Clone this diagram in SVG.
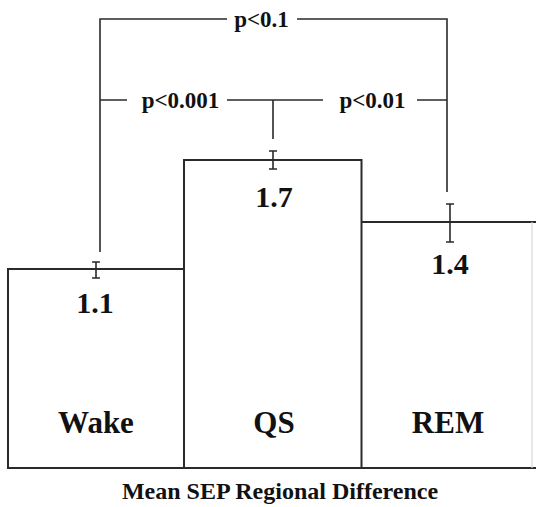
<svg xmlns="http://www.w3.org/2000/svg" width="536" height="507" viewBox="0 0 536 507">
<style>
.ln{stroke:#2a2a2a;stroke-width:1.6;fill:none}
.bar{stroke:#2a2a2a;stroke-width:2;fill:#fff}
.eb{stroke:#2a2a2a;stroke-width:1.6;fill:none}
text{font-family:'Liberation Serif','Times New Roman','DejaVu Serif',serif;font-weight:bold;fill:#111;text-anchor:middle}
.p{font-size:23px}
.v{font-size:30px}
.lab{font-size:31px}
.ttl{font-size:24px}
</style>
<rect width="536" height="507" fill="#fff"/>
<g id="wake">
<rect class="bar" x="8" y="269" width="176" height="199"/>
<path class="eb" d="M96 262V278M92 262H100M92 278H100"/>
<text class="v" x="95" y="313" font-family="Liberation Serif">1.1</text>
<text class="lab" x="96" y="433" font-family="Liberation Serif">Wake</text>
</g>
<g id="rem">
<path class="bar" d="M361.5 222H536M361.5 468H536"/>
<path d="M532 222V468" stroke="#d8d8d8" stroke-width="1.2" fill="none"/>
<path class="eb" d="M450 204V242M446 204H454M446 242H454"/>
<text class="v" x="450" y="274" font-family="Liberation Serif">1.4</text>
<text class="lab" x="448" y="433" font-family="Liberation Serif">REM</text>
</g>
<g id="qs">
<rect class="bar" x="184" y="160" width="177.5" height="308"/>
<path class="eb" d="M273 151V169M269 151H277M269 169H277"/>
<text class="v" x="274" y="207" font-family="Liberation Serif">1.7</text>
<text class="lab" x="274" y="433" font-family="Liberation Serif">QS</text>
</g>
<g id="connectors">
<path class="ln" d="M100 252V19H227M297 19H447V192"/>
<path class="ln" d="M100 100H127M227 100H323M417 100H447M273 100V139"/>
<text class="p" x="261.5" y="27" font-family="Liberation Serif">p&lt;0.1</text>
<text class="p" x="180.5" y="108" font-family="Liberation Serif">p&lt;0.001</text>
<text class="p" x="372.5" y="108" font-family="Liberation Serif">p&lt;0.01</text>
</g>
<text id="title" class="ttl" x="280" y="499" font-family="Liberation Serif">Mean SEP Regional Difference</text>
</svg>
